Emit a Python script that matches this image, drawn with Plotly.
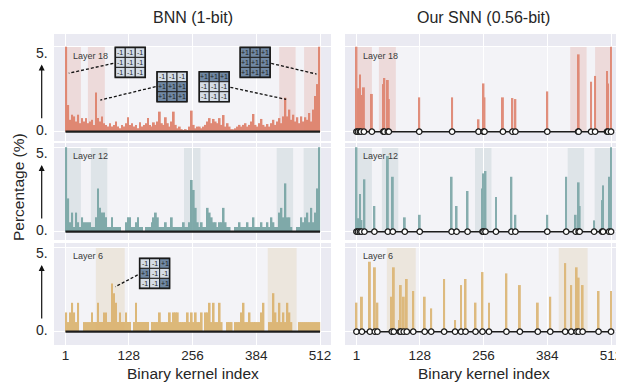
import plotly.graph_objects as go
from plotly.subplots import make_subplots

# the page body adds an 8px margin; the figure is laid out in reference pixels minus that margin
REF_W, REF_H = 624, 382
PAGE_MARGIN = 8
W, H = REF_W - PAGE_MARGIN, REF_H - PAGE_MARGIN

# ---------------- data ----------------
TICK_IDX = [1, 128, 256, 384, 512]
TICK_TEXT = ["1", "128", "256", "384", "512"]
LAYERS = ["Layer 18", "Layer 12", "Layer 6"]
COL_TITLES = ["BNN (1-bit)", "Our SNN (0.56-bit)"]

# BNN (1-bit): percentage, one value per group of 4 consecutive kernels (group g -> kernels 4g+1..4g+4)
bnn_l18 = [5.0, 1.57, 0.7, 1.0, 0.9, 0.6, 1.0, 0.5, 0.8, 0.6,
           0.8, 0.5, 0.6, 0.7, 0.4, 2.3, 0.8, 0.6, 0.9, 0.5,
           0.4, 0.3, 0.5, 0.3, 0.4, 0.6, 0.3, 0.2, 0.4, 0.3,
           0.5, 0.85, 0.4, 0.5, 0.3, 0.4, 0.2, 0.55, 0.3, 0.4,
           0.5, 0.8, 0.4, 0.3, 0.55, 0.4, 0.6, 1.18, 0.5, 0.4,
           0.85, 0.5, 0.3, 0.6, 1.18, 0.4, 0.2, 0.3, 0.15, 0.1,
           0.15, 0.1, 0.3, 1.24, 0.4, 0.2, 0.3, 0.3, 0.2, 0.3,
           0.4, 0.6, 0.8, 0.5, 0.75, 0.6, 0.5, 0.8, 0.4, 0.98,
           0.3, 0.5, 0.3, 0.15, 0.14, 0.2, 0.3, 0.4, 0.3, 0.4,
           0.5, 0.3, 0.4, 0.6, 1.04, 0.4, 0.3, 0.5, 0.75, 0.4,
           0.3, 0.45, 0.3, 0.5, 0.7, 0.4, 0.6, 0.8, 0.5, 0.9,
           2.0, 0.9, 1.3, 0.7, 1.0, 0.6, 0.85, 0.5, 0.9, 0.6,
           0.85, 0.7, 1.1, 0.6, 1.3, 2.1, 2.8, 5.0]
bnn_l12 = [5.0, 1.97, 0.56, 1.13, 0.28, 1.13, 0.56, 0.28, 0.85, 0.56,
           0.56, 0.56, 0.56, 0.28, 0.28, 0.85, 2.56, 1.41, 1.13, 1.13,
           0.85, 0.28, 0.28, 0.85, 0.28, 0.28, 0.28, 0.28, 0.0, 0.0,
           0.56, 0.85, 0.85, 0.28, 0.28, 0.56, 0.85, 0.28, 0.28, 0.0,
           0.28, 0.28, 0.28, 0.56, 0.85, 1.13, 0.85, 0.28, 0.28, 0.28,
           0.56, 0.28, 0.28, 0.85, 0.28, 0.28, 0.28, 0.28, 0.28, 0.56,
           0.28, 0.28, 0.56, 3.06, 2.47, 1.41, 0.56, 0.28, 0.56, 0.28,
           0.28, 1.41, 1.13, 0.85, 0.56, 0.56, 0.28, 0.56, 0.56, 1.41,
           0.56, 0.28, 0.28, 0.0, 0.0, 0.28, 0.28, 0.56, 0.28, 0.28,
           0.28, 0.56, 0.28, 0.28, 0.85, 0.28, 0.28, 0.28, 0.56, 0.28,
           0.28, 0.56, 0.28, 0.85, 0.56, 0.28, 0.28, 1.13, 1.41, 0.85,
           2.86, 0.85, 0.85, 0.28, 0.0, 0.0, 0.28, 0.28, 0.85, 0.56,
           0.85, 1.13, 0.56, 1.41, 0.56, 1.13, 2.56, 5.0]
bnn_l6 = [1.14, 0.57, 1.14, 1.71, 1.14, 0.57, 1.71, 0.0, 0.0, 0.57,
          0.57, 0.57, 0.57, 1.14, 0.57, 0.57, 1.71, 0.57, 0.57, 1.14,
          1.14, 0.57, 0.57, 2.85, 2.28, 1.71, 0.57, 1.14, 0.57, 0.57,
          1.14, 0.57, 0.57, 0.0, 0.57, 1.71, 0.57, 0.57, 0.57, 0.57,
          0.57, 0.57, 0.0, 0.57, 0.57, 0.57, 0.57, 1.14, 0.57, 0.57,
          0.57, 0.57, 1.14, 0.57, 1.14, 1.14, 1.14, 0.57, 0.57, 0.57,
          0.57, 1.14, 0.57, 1.14, 0.57, 1.14, 0.57, 0.57, 1.14, 0.0,
          1.14, 1.14, 1.71, 0.57, 1.71, 0.57, 0.57, 1.71, 0.57, 0.0,
          0.0, 0.57, 0.57, 0.57, 0.0, 0.57, 0.57, 0.57, 1.14, 1.71,
          0.57, 0.57, 1.14, 0.57, 0.57, 0.57, 0.57, 0.57, 1.14, 1.71,
          0.0, 0.0, 0.57, 0.57, 2.28, 1.14, 0.57, 1.71, 0.57, 1.14,
          0.57, 1.71, 1.14, 0.57, 0.0, 0.0, 0.0, 0.57, 0.57, 0.57,
          0.57, 0.57, 0.57, 0.57, 0.57, 0.57, 0.57, 0.57]

# Our SNN (0.56-bit): used kernel indices and their percentages
snn_l18_idx = [1, 4, 8, 10, 16, 32, 55, 57, 64, 66, 127, 193, 246, 256, 258, 295, 314, 320,
               384, 446, 447, 472, 480, 504, 506, 512]
snn_l18_val = [5.0, 2.55, 3.37, 2.16, 2.61, 2.22, 2.8, 3.16, 3.04, 1.92, 2.02, 2.02, 0.73, 2.84,
               2.02, 2.02, 1.98, 1.92, 2.37, 3.49, 4.55, 2.94, 3.28, 3.57, 2.84, 5.0]
snn_l12_idx = [1, 4, 8, 11, 17, 37, 64, 74, 98, 128, 192, 202, 224, 254, 256, 260, 281, 312,
               320, 384, 422, 441, 447, 449, 478, 494, 496, 508, 512]
snn_l12_val = [5.0, 0.8, 2.23, 0.69, 3.1, 1.52, 4.48, 3.25, 0.85, 1.0, 3.25, 1.52, 2.41, 2.56,
               3.45, 3.59, 2.05, 3.25, 1.0, 1.0, 3.25, 1.0, 2.92, 1.52, 0.67, 1.87, 2.74, 3.25, 5.0]
snn_l6_idx = [1, 12, 28, 38, 43, 72, 76, 88, 90, 96, 102, 115, 138, 151, 177, 199, 211, 220,
              240, 254, 267, 302, 329, 365, 390, 420, 432, 443, 447, 455, 487, 512]
snn_l6_val = [1.72, 2.07, 4.14, 3.81, 1.72, 2.07, 3.81, 0.69, 2.76, 2.07, 3.12, 2.41, 2.07, 1.38,
              3.12, 0.69, 2.76, 3.12, 1.72, 3.53, 1.72, 3.45, 2.76, 1.72, 2.07, 4.06, 2.76, 3.81,
              3.2, 2.76, 2.41, 2.41]

# highlighted kernel-index ranges per layer
bands_l18 = [(1, 32), (46, 80), (430, 463), (480, 512)]
bands_l12 = [(1, 32), (52, 85), (239, 272), (425, 458), (479, 512)]
bands_l6 = [(62, 120), (407, 465)]

# example binary kernels (3x3)
kern_all_neg = [[-1, -1, -1], [-1, -1, -1], [-1, -1, -1]]
kern_top_neg = [[-1, -1, -1], [1, 1, 1], [1, 1, 1]]
kern_top_pos = [[1, 1, 1], [-1, -1, -1], [-1, -1, -1]]
kern_all_pos = [[1, 1, 1], [1, 1, 1], [1, 1, 1]]
kern_l6 = [[-1, -1, 1], [1, -1, -1], [-1, -1, 1]]

# ---------------- style / layout ----------------
FONT = "Liberation Sans, Arial, Helvetica, sans-serif"
TXT = "#262626"
BG = "#EAEAF2"
INNER = "#F3F3F7"
ROW_COLORS = ["#DE806A", "#77A4A4", "#DBB36F"]
BAND_COLORS = ["#EDDADA", "#DEE4E8", "#ECE6DD"]
CELL_LIGHT = "#D5DDE7"
CELL_DARK = "#7088A3"

# positions in reference pixels
COL_PX = [(54, 331), (345, 622)]
ROW_PX = [(34, 141), (143, 240), (243, 345)]
ZERO_PX = [131.7, 231.7, 331.7]
PX_PER_UNIT = [17.0, 16.9, 16.9]
XR = [-22, 534]


def px(xp):
    return (xp - PAGE_MARGIN) / W


def py(yp):
    return 1 - (yp - PAGE_MARGIN) / H


fig = make_subplots(rows=3, cols=2)

bnn_rows = [bnn_l18, bnn_l12, bnn_l6]
snn_rows = [(snn_l18_idx, snn_l18_val), (snn_l12_idx, snn_l12_val), (snn_l6_idx, snn_l6_val)]
band_rows = [bands_l18, bands_l12, bands_l6]


def axref(r, c):
    n = r * 2 + c + 1
    return ("x" if n == 1 else f"x{n}"), ("y" if n == 1 else f"y{n}")


for r in range(3):
    top, bot = ROW_PX[r]
    ymin = -(bot - ZERO_PX[r]) / PX_PER_UNIT[r]
    ymax = (ZERO_PX[r] - top) / PX_PER_UNIT[r]
    for c in range(2):
        xr, yr = axref(r, c)
        fig.update_xaxes(domain=[px(COL_PX[c][0]), px(COL_PX[c][1])], range=XR,
                         tickvals=TICK_IDX, ticktext=TICK_TEXT, showticklabels=(r == 2),
                         showgrid=True, gridcolor="white", gridwidth=1, zeroline=False,
                         showline=False, ticks="", tickfont=dict(size=13.5, color=TXT, family=FONT),
                         row=r + 1, col=c + 1)
        fig.update_yaxes(domain=[py(bot), py(top)], range=[ymin, ymax],
                         tickvals=[0, 5], showticklabels=False, showgrid=True,
                         gridcolor="white", gridwidth=1, zeroline=False, showline=False,
                         ticks="", row=r + 1, col=c + 1)
        # light inner data area
        fig.add_shape(type="rect", xref=xr, yref=yr, x0=1, x1=512, y0=0, y1=5,
                      fillcolor=INNER, line=dict(width=0), layer="below")
        for a, b in band_rows[r]:
            fig.add_shape(type="rect", xref=xr, yref=yr, x0=a, x1=b, y0=0, y1=5,
                          fillcolor=BAND_COLORS[r], line=dict(width=0), layer="below")
        # layer label
        fig.add_annotation(xref=xr, yref=yr, x=12 if c == 0 else 10, y=4.46, text=LAYERS[r],
                           showarrow=False, xanchor="left", yanchor="middle",
                           font=dict(size=9, color="#3a3a3a", family=FONT))

    # BNN bars
    vals = bnn_rows[r]
    fig.add_trace(go.Bar(x=[4 * g + 2.5 for g in range(len(vals))], y=vals, width=3.6,
                         marker=dict(color=ROW_COLORS[r], line=dict(width=0)), opacity=0.92,
                         showlegend=False, hoverinfo="skip"), row=r + 1, col=1)
    xr, yr = axref(r, 0)
    fig.add_shape(type="line", xref=xr, yref=yr, x0=1, x1=512, y0=0, y1=0,
                  line=dict(color="#1c1c1c", width=2.2), layer="above")

    # SNN bars + used-kernel markers
    idx, sv = snn_rows[r]
    fig.add_trace(go.Bar(x=idx, y=sv, width=3.8,
                         marker=dict(color=ROW_COLORS[r], line=dict(width=0)), opacity=0.88,
                         showlegend=False, hoverinfo="skip"), row=r + 1, col=2)
    fig.add_trace(go.Scatter(x=idx, y=[0] * len(idx), mode="lines+markers",
                             line=dict(color="#1c1c1c", width=1.6),
                             marker=dict(size=5.5, color="white",
                                         line=dict(color="#1c1c1c", width=1.3)),
                             cliponaxis=False, showlegend=False, hoverinfo="skip"),
                  row=r + 1, col=2)

    # y labels "5." / "0." and the arrow
    yr0 = axref(r, 0)[1]
    for yv, t in [(4.65, "5."), (0.1, "0.")]:
        fig.add_annotation(xref="paper", yref=yr0, x=px(50), y=yv, text=t, showarrow=False,
                           xanchor="right", yanchor="middle",
                           font=dict(size=14, color=TXT, family=FONT))
    fig.add_annotation(xref="paper", yref=yr0, x=px(41.7), y=3.95, text="", showarrow=True,
                       ax=0, ay=3.25 * PX_PER_UNIT[r], arrowhead=2, arrowsize=1,
                       arrowwidth=1.2, arrowcolor="#111")


def add_matrix(r, x0, y0, mat):
    xr, yr = axref(r, 0)
    dx = 10 / 0.499
    dy = 10 / PX_PER_UNIT[r]
    for i, row in enumerate(mat):
        for j, v in enumerate(row):
            cx = x0 + j * dx
            cy = y0 - i * dy
            fig.add_shape(type="rect", xref=xr, yref=yr, x0=cx, x1=cx + dx, y0=cy - dy, y1=cy,
                          fillcolor=CELL_DARK if v > 0 else CELL_LIGHT,
                          line=dict(color="#222", width=1), layer="above")
            fig.add_annotation(xref=xr, yref=yr, x=cx + dx / 2, y=cy - dy / 2,
                               text="+1" if v > 0 else "-1", showarrow=False,
                               font=dict(size=7, color="#1e1e1e", family=FONT))
    fig.add_shape(type="rect", xref=xr, yref=yr, x0=x0, x1=x0 + 3 * dx, y0=y0 - 3 * dy, y1=y0,
                  fillcolor="rgba(0,0,0,0)", line=dict(color="#1a1a1a", width=1.6),
                  layer="above")


def add_pointer(r, x0, y0, x1, y1):
    xr, yr = axref(r, 0)
    fig.add_shape(type="line", xref=xr, yref=yr, x0=x0, y0=y0, x1=x1, y1=y1,
                  line=dict(color="#111", width=1.3, dash="3px,2px"), layer="above")


add_matrix(0, 101, 4.96, kern_all_neg)
add_pointer(0, 97, 4.02, 7.6, 3.44)
add_matrix(0, 184.8, 3.53, kern_top_neg)
add_pointer(0, 182, 2.65, 71, 1.86)
add_matrix(0, 269.5, 3.53, kern_top_pos)
add_pointer(0, 332, 2.61, 444, 1.9)
add_matrix(0, 351.7, 4.96, kern_all_pos)
add_pointer(0, 414, 4.02, 505, 3.39)
add_matrix(2, 149.9, 4.34, kern_l6)
add_pointer(2, 146, 3.36, 101, 2.66)

# titles
for c in range(2):
    cx = px((COL_PX[c][0] + COL_PX[c][1]) / 2)
    fig.add_annotation(xref="paper", yref="paper", x=cx, y=py(18), text=COL_TITLES[c],
                       showarrow=False, xanchor="center", yanchor="middle",
                       font=dict(size=16, color=TXT, family=FONT))
    fig.add_annotation(xref="paper", yref="paper", x=cx, y=py(373),
                       text="Binary kernel index", showarrow=False, xanchor="center",
                       yanchor="middle", font=dict(size=15.5, color=TXT, family=FONT))
fig.add_annotation(xref="paper", yref="paper", x=px(18), y=py(187), text="Percentage (%)",
                   textangle=-90, showarrow=False, xanchor="center", yanchor="middle",
                   font=dict(size=15.5, color=TXT, family=FONT))

fig.update_layout(width=W, height=H, autosize=False, margin=dict(l=0, r=0, t=0, b=0),
                  paper_bgcolor="white", plot_bgcolor=BG, showlegend=False,
                  barmode="overlay", font=dict(family=FONT, color=TXT))

fig.write_html("out.html")
